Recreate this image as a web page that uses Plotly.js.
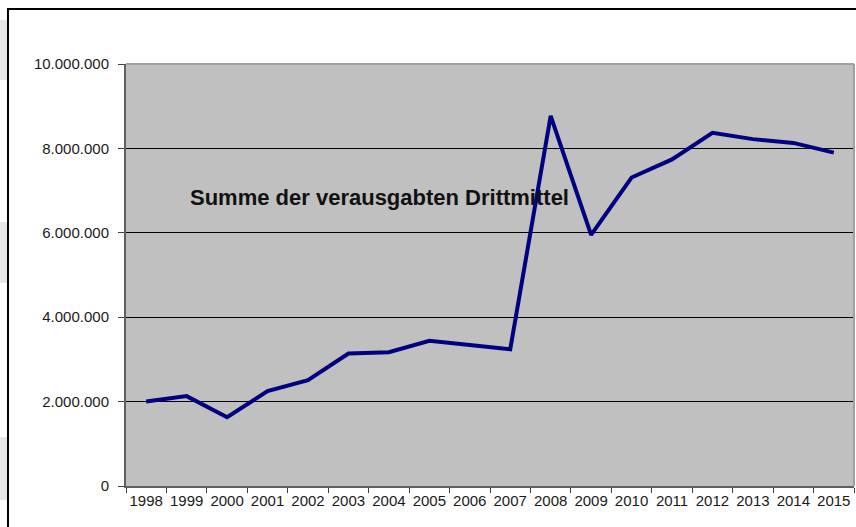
<!DOCTYPE html>
<html>
<head>
<meta charset="utf-8">
<script src="https://cdn.plot.ly/plotly-3.0.1.min.js"></script>
<style>html,body{margin:0;padding:0;background:#fff;}#chart{width:856px;height:527px;}</style>
</head>
<body>
<div id="chart"></div>
<script>
const years = ["1998","1999","2000","2001","2002","2003","2004","2005","2006","2007","2008","2009","2010","2011","2012","2013","2014","2015"];
const drittmittel = [2000000, 2130000, 1630000, 2250000, 2510000, 3140000, 3170000, 3440000, 3340000, 3240000, 8770000, 5950000, 7310000, 7740000, 8370000, 8220000, 8130000, 7900000];
const yTicks = [0, 2000000, 4000000, 6000000, 8000000, 10000000];
const annotationText = "Summe der verausgabten Drittmittel";

const trace = {
  x: years,
  y: drittmittel,
  type: "scatter",
  mode: "lines",
  line: {color: "#000080", width: 4},
  hoverinfo: "skip"
};

const font = {family: "Liberation Sans, Arial, sans-serif", size: 15, color: "#1a1a1a"};

const layout = {
  width: 856,
  height: 527,
  margin: {l: 126, r: 2, t: 64, b: 41, pad: 0},
  paper_bgcolor: "#ffffff",
  plot_bgcolor: "#c0c0c0",
  separators: ",.",
  showlegend: false,
  font: font,
  xaxis: {
    type: "category",
    range: [-0.5, 17.5],
    tickson: "boundaries",
    tickangle: 0,
    ticks: "outside",
    ticklen: 5,
    tickwidth: 1,
    tickcolor: "#404040",
    showline: true,
    linecolor: "#606060",
    linewidth: 2,
    showgrid: false,
    zeroline: false,
    tickfont: font,
    fixedrange: true
  },
  yaxis: {
    range: [0, 10000000],
    tickvals: yTicks,
    tickformat: ",d",
    ticks: "outside",
    ticklen: 6,
    tickwidth: 1,
    tickcolor: "#404040",
    ticklabelstandoff: 6,
    showline: true,
    linecolor: "#606060",
    linewidth: 2,
    showgrid: true,
    gridcolor: "#000000",
    gridwidth: 1,
    zeroline: false,
    tickfont: font,
    fixedrange: true
  },
  shapes: [
    {type: "rect", xref: "paper", yref: "paper", x0: -0.1621, x1: 1.2, y0: -0.3, y1: 1.1303, line: {color: "#000000", width: 2}, fillcolor: "rgba(0,0,0,0)", layer: "below"},
    {type: "rect", xref: "paper", yref: "paper", x0: -0.1731, x1: -0.1635, y0: 1 - (80 - 64) / 422, y1: 1 - (20 - 64) / 422, line: {width: 0}, fillcolor: "#e6e6e6", layer: "below"},
    {type: "rect", xref: "paper", yref: "paper", x0: -0.1731, x1: -0.1635, y0: 1 - (283 - 64) / 422, y1: 1 - (222 - 64) / 422, line: {width: 0}, fillcolor: "#e6e6e6", layer: "below"},
    {type: "rect", xref: "paper", yref: "paper", x0: -0.1731, x1: -0.1635, y0: 1 - (500 - 64) / 422, y1: 1 - (437 - 64) / 422, line: {width: 0}, fillcolor: "#e6e6e6", layer: "below"},
    {type: "line", xref: "paper", yref: "paper", x0: 0, x1: 1, y0: 1, y1: 1, line: {color: "#a0a0a0", width: 2}},
    {type: "line", xref: "paper", yref: "paper", x0: 1, x1: 1, y0: 0, y1: 1, line: {color: "#a0a0a0", width: 2}}
  ],
  annotations: [
    {
      text: "<b>" + annotationText + "</b>",
      xref: "paper", yref: "paper",
      x: 0.0852, y: 0.6825,
      xanchor: "left", yanchor: "middle",
      showarrow: false,
      font: {family: "Liberation Sans, Arial, sans-serif", size: 22, color: "#111111"}
    }
  ]
};

Plotly.newPlot("chart", [trace], layout, {displayModeBar: false, staticPlot: true});
</script>
</body>
</html>
